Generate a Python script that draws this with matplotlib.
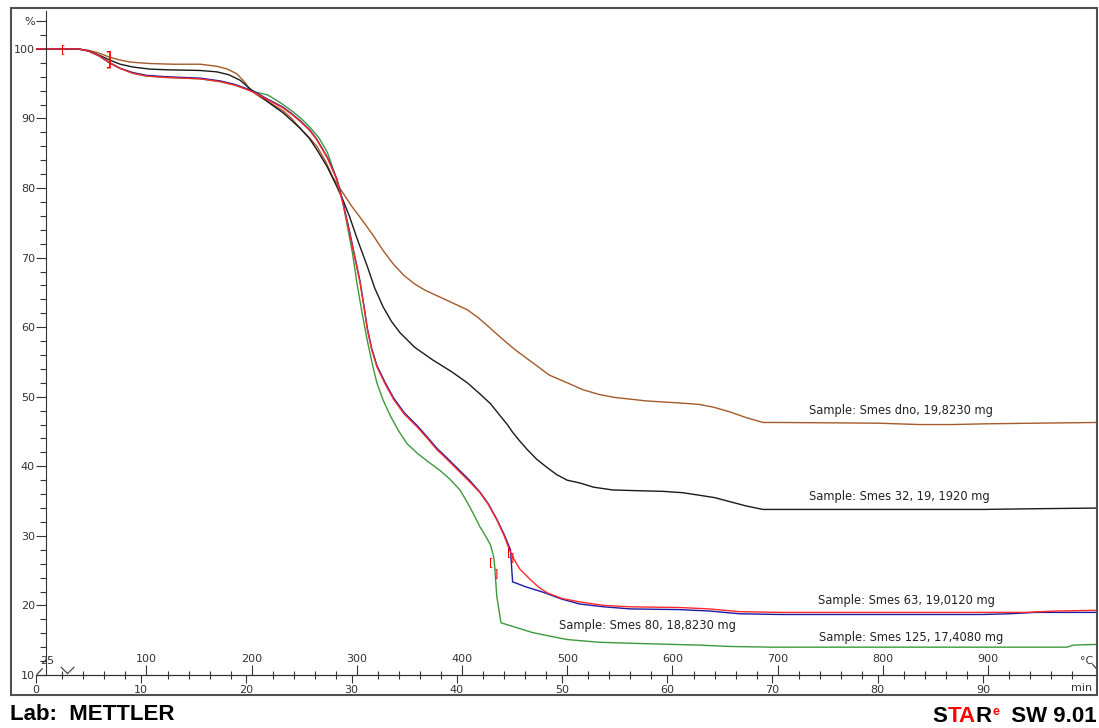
import matplotlib
matplotlib.use("Agg")
import matplotlib.pyplot as plt
from matplotlib.ticker import MultipleLocator
from matplotlib.patches import Rectangle

# TGA curves, time in min, weight in %
t_dno = [0, 4, 5, 6, 7, 8, 9, 10.8, 13, 15.6, 17.2, 18.2, 19.1, 19.8, 20.4, 21.3, 22.4, 23.5,
         24.3, 25.1, 26, 26.7, 27.5, 28.2, 29, 30, 31, 32, 33, 34, 35, 36, 37, 38, 39, 40, 41,
         42, 43, 44.1, 45.5, 47.2, 48.8, 50.5, 52, 53.6, 55, 58, 61.2, 63, 64.4, 66, 67.5, 69.1,
         70.7, 80, 84, 87, 90, 95, 100.85]
w_dno = [100, 100, 99.8, 99.4, 98.8, 98.4, 98.1, 97.9, 97.8, 97.8, 97.5, 97.1, 96.4, 95.3, 94.0,
         93.1, 92.1, 91.1, 90.0, 88.6, 87.2, 86.0, 83.9, 81.6, 79.7, 77.4, 75.4, 73.3, 71.0,
         69.0, 67.4, 66.2, 65.3, 64.6, 63.9, 63.2, 62.5, 61.4, 60.1, 58.6, 56.8, 54.9, 53.1,
         52.0, 51.0, 50.3, 49.9, 49.4, 49.1, 48.9, 48.5, 47.8, 47.0, 46.3, 46.3, 46.2, 46.0,
         46.0, 46.1, 46.2, 46.3]

t_32 = [0, 4, 5, 6, 7, 8, 9.2, 10.8, 12.4, 15.6, 17.2, 18.3, 19.4, 20.4, 21, 22.2, 23.5, 24.3,
        25.1, 26, 26.7, 27.7, 28.6, 29.2, 29.8, 30.6, 31.5, 32.2, 33, 33.8, 34.6, 36, 37.7, 39.5,
        41, 42.2, 43.2, 44.1, 44.8, 45.3, 46, 46.7, 47.6, 48.6, 49.5, 50.5, 51.7, 53, 54.8, 57,
        59.6, 61.5, 62.8, 64.5, 66, 67.5, 69.1, 75, 85, 90, 95, 100.85]
w_32 = [100, 100, 99.7, 99.1, 98.4, 97.8, 97.4, 97.1, 97.0, 96.9, 96.7, 96.3, 95.5, 94.2, 93.6,
        92.2, 90.8, 89.7, 88.6, 87.1, 85.5, 83.0, 80.2, 78.2, 75.9, 72.4, 68.7, 65.6, 62.9,
        60.8, 59.2, 57.1, 55.3, 53.6, 52.0, 50.4, 49.0, 47.3, 46.0, 44.9, 43.6, 42.4, 41.0,
        39.8, 38.8, 38.0, 37.6, 37.0, 36.6, 36.5, 36.4, 36.2, 35.9, 35.5, 34.9, 34.3, 33.8,
        33.8, 33.8, 33.8, 33.9, 34.0]

t_63 = [0, 4, 5, 6, 7, 8, 9.2, 10.5, 12.4, 15.6, 17.5, 18.9, 20, 20.8, 22, 23.5, 24.3, 25.1, 26,
        26.7, 27.7, 28.6, 29.2, 29.8, 30.3, 30.8, 31.2, 31.5, 31.9, 32.4, 33.2, 34, 35, 36.2,
        37.2, 38.1, 39, 40, 41.2, 42.2, 43, 43.8, 44.5, 45, 45.3, 46, 47, 47.8, 48.6, 50, 51.7,
        54, 56.5, 61.2, 64, 66.9, 70.7, 80, 90, 94, 97, 100.85]
w_63 = [100, 100, 99.7, 99.0, 98.0, 97.2, 96.5, 96.1, 95.9, 95.7, 95.3, 94.8, 94.2, 93.7, 92.7,
        91.5, 90.6, 89.6, 88.3, 86.9, 84.3, 81.2, 77.6, 73.6, 70.0, 66.4, 62.6, 59.6, 56.8,
        54.3, 51.8, 49.6, 47.5, 45.7, 44.0, 42.4, 41.1, 39.6, 37.8, 36.2, 34.5, 32.3, 30.0,
        28.0, 27.0, 25.2, 23.7, 22.6, 21.8, 21.0, 20.5, 20.0, 19.8, 19.7, 19.5, 19.1, 19.0,
        19.0, 19.0, 19.0, 19.2, 19.3]

t_80 = [0, 4, 5, 6, 7, 8, 9.2, 10.5, 12.4, 15.6, 17.5, 18.9, 20, 20.8, 22, 23.5, 24.3, 25.1, 26,
        26.7, 27.7, 28.6, 29.2, 29.8, 30.3, 30.8, 31.2, 31.5, 31.9, 32.4, 33.2, 34, 35, 36.2,
        37.2, 38.1, 39, 40, 41.2, 42.2, 43, 43.8, 44.5, 45.1, 45.3, 46.5, 48.2, 50, 51.7, 54,
        56.5, 61.2, 64, 66.9, 70.7, 80, 90, 92.5, 95, 100.85]
w_80 = [100, 100, 99.7, 99.0, 98.0, 97.2, 96.6, 96.2, 96.0, 95.8, 95.4, 94.9, 94.3, 93.8, 92.8,
        91.6, 90.7, 89.7, 88.4, 87.0, 84.4, 81.3, 77.8, 73.8, 70.2, 66.6, 62.8, 59.8, 57.0,
        54.5, 52.0, 49.8, 47.7, 45.9, 44.2, 42.6, 41.3, 39.8, 38.0, 36.3, 34.6, 32.4, 30.2,
        28.0, 23.4, 22.7, 21.9, 20.9, 20.2, 19.8, 19.5, 19.4, 19.2, 18.8, 18.7, 18.7, 18.7,
        18.8, 19.0, 19.0]

t_125 = [0, 4, 5, 6, 7, 8, 9.2, 10.5, 12.4, 15.6, 17.5, 18.9, 20, 20.8, 22, 23.2, 24.4, 25.2, 26,
         26.9, 27.7, 28.6, 29.1, 29.6, 30.1, 30.5, 31, 31.5, 32, 32.4, 33, 33.7, 34.5, 35.3,
         36.3, 37.5, 38.4, 39.3, 40.3, 41, 41.5, 42.2, 42.8, 43.2, 43.5, 43.6, 43.8, 44.2, 47.2,
         48.8, 50.5, 52, 53.6, 58, 63, 66, 70, 80, 90, 98, 98.6, 100.85]
w_125 = [100, 100, 99.7, 99.0, 98.0, 97.2, 96.5, 96.1, 95.9, 95.7, 95.3, 94.8, 94.2, 93.8, 93.4,
         92.3, 91.0, 90.0, 88.8, 87.2, 85.1, 81.2, 78.5, 74.5, 70.5, 66.4, 62.0, 58.0, 54.5,
         52.0, 49.5, 47.2, 45.0, 43.2, 41.8, 40.4, 39.4, 38.2, 36.6, 34.8, 33.4, 31.3, 29.8,
         28.7, 27.0, 25.6, 21.3, 17.5, 16.1, 15.6, 15.1, 14.9, 14.7, 14.5, 14.3, 14.1, 14.0,
         14.0, 14.0, 14.0, 14.3, 14.4]

sample_labels = ["Sample: Smes dno, 19,8230 mg", "Sample: Smes 32, 19, 1920 mg",
                 "Sample: Smes 63, 19,0120 mg", "Sample: Smes 80, 18,8230 mg",
                 "Sample: Smes 125, 17,4080 mg"]

# evaluation limit brackets
brk_t = [2.6, 6.8, 43.3, 43.7, 45.0, 45.3]
brk_w = [100, 98.4, 26.3, 24.6, 27.6, 26.9]
brk_sym = ['[', ']', '[', ']', '[', ']']

temp_major = [100, 200, 300, 400, 500, 600, 700, 800, 900]
min_major = [0, 10, 20, 30, 40, 50, 60, 70, 80, 90]


def t2T(t):
    return 25 + 10 * (t - 3)


def T2t(T):
    return 3 + (T - 25) / 10


fig = plt.figure(figsize=(10.99, 7.28), dpi=100)
ax = fig.add_axes([36 / 1099, 1 - 675 / 728, 1061 / 1099, 664 / 728])
ax.set_xlim(0, 100.85)
ax.set_ylim(10, 105.45)

series = [(t_125, w_125, '#3a9a3a'), (t_dno, w_dno, '#a45a2a'), (t_32, w_32, '#1a1a1a'),
          (t_80, w_80, '#1a1aa8'), (t_63, w_63, '#ff2a2a')]
for t, w, c in series:
    ax.plot(t, w, color=c, lw=1.0)

for t, w, s in zip(brk_t, brk_w, brk_sym):
    fs = 14 if t == 6.8 else 8
    ax.text(t, w, s, color='red', fontsize=fs, ha='center', va='center')

label_pos = [(82.2, 48.0), (82.1, 35.6), (82.7, 20.7), (58.1, 17.1), (83.2, 15.4)]
for (x, y), lab in zip(label_pos, sample_labels):
    ax.text(x, y, lab, fontsize=8.3, ha='center', va='center', color='#222222')

# axes styling
for s in ['top', 'right']:
    ax.spines[s].set_visible(False)
ax.spines['left'].set_position(('data', 0.95))
ax.spines['left'].set_color('#333333')
ax.spines['bottom'].set_color('#333333')

yt = [10, 20, 30, 40, 50, 60, 70, 80, 90, 100, 104]
ax.set_yticks(yt)
ax.set_yticklabels([str(v) for v in yt[:-1]] + ['%'])
ax.yaxis.set_minor_locator(MultipleLocator(2))
ax.tick_params(axis='y', which='major', length=7, width=0.8, pad=1, labelsize=8, colors='#333333')
ax.tick_params(axis='y', which='minor', length=4, width=0.8, colors='#333333')

ax.set_xticks(min_major)
ax.tick_params(axis='x', which='major', length=6, width=0.8, pad=1, labelsize=8, colors='#333333')

sec = ax.secondary_xaxis(0.0, functions=(t2T, T2t))
sec.set_alignment('top')
sec.set_xticks(temp_major)
sec.set_xticks([T for T in range(20, 1000, 20) if T % 100 != 0], minor=True)
sec.tick_params(axis='x', which='major', length=7, width=0.8, pad=1, labelsize=8, colors='#333333')
sec.tick_params(axis='x', which='minor', direction='inout', length=6, width=0.8, colors='#333333')
sec.spines['top'].set_color('#333333')

ax.text(1.05, 11.3, '25', fontsize=8, ha='center', va='bottom', color='#333333')
ax.text(99.9, 11.3, '°C', fontsize=8, ha='center', va='bottom', color='#333333')
ax.text(99.4, 8.1, 'min', fontsize=8, ha='center', va='center', color='#333333')
ax.plot([0.1, 0.6], [10.1, 10.9], color='#333333', lw=0.8, clip_on=False)
ax.plot([100.45, 100.85], [11.5, 10.8], color='#333333', lw=0.8, clip_on=False)
ax.plot([2.4, 3.0, 3.6], [11.1, 10.2, 11.1], color='#333333', lw=0.8, clip_on=False)

# outer frame
fig.add_artist(Rectangle((11 / 1099, 1 - 695 / 728), 1086 / 1099, 687 / 728,
                         transform=fig.transFigure, fill=False, lw=1.5, ec='#505050'))

fig.text(10 / 1099, 1 - 714 / 728, 'Lab:  METTLER', fontsize=16, fontweight='bold',
         family='Liberation Sans', ha='left', va='center')

# STARe SW 9.01, placed piece by piece from the right
renderer = fig.canvas.get_renderer()
pieces = [('  SW 9.01', 'black', 16, 0), ('e', 'red', 9, 7), ('R', 'black', 16, 0),
          ('TA', 'red', 16, 0), ('S', 'black', 16, 0)]
x_right = 1097
for txt, col, fs, dy in pieces:
    tobj = fig.text(x_right / 1099, 1 - (722 - dy) / 728, txt, color=col, fontsize=fs,
                    fontweight='bold', family='Liberation Sans', ha='right', va='baseline')
    x_right = tobj.get_window_extent(renderer).x0 - (1 if txt == 'e' else 0)

fig.savefig('out.png', dpi=100)
